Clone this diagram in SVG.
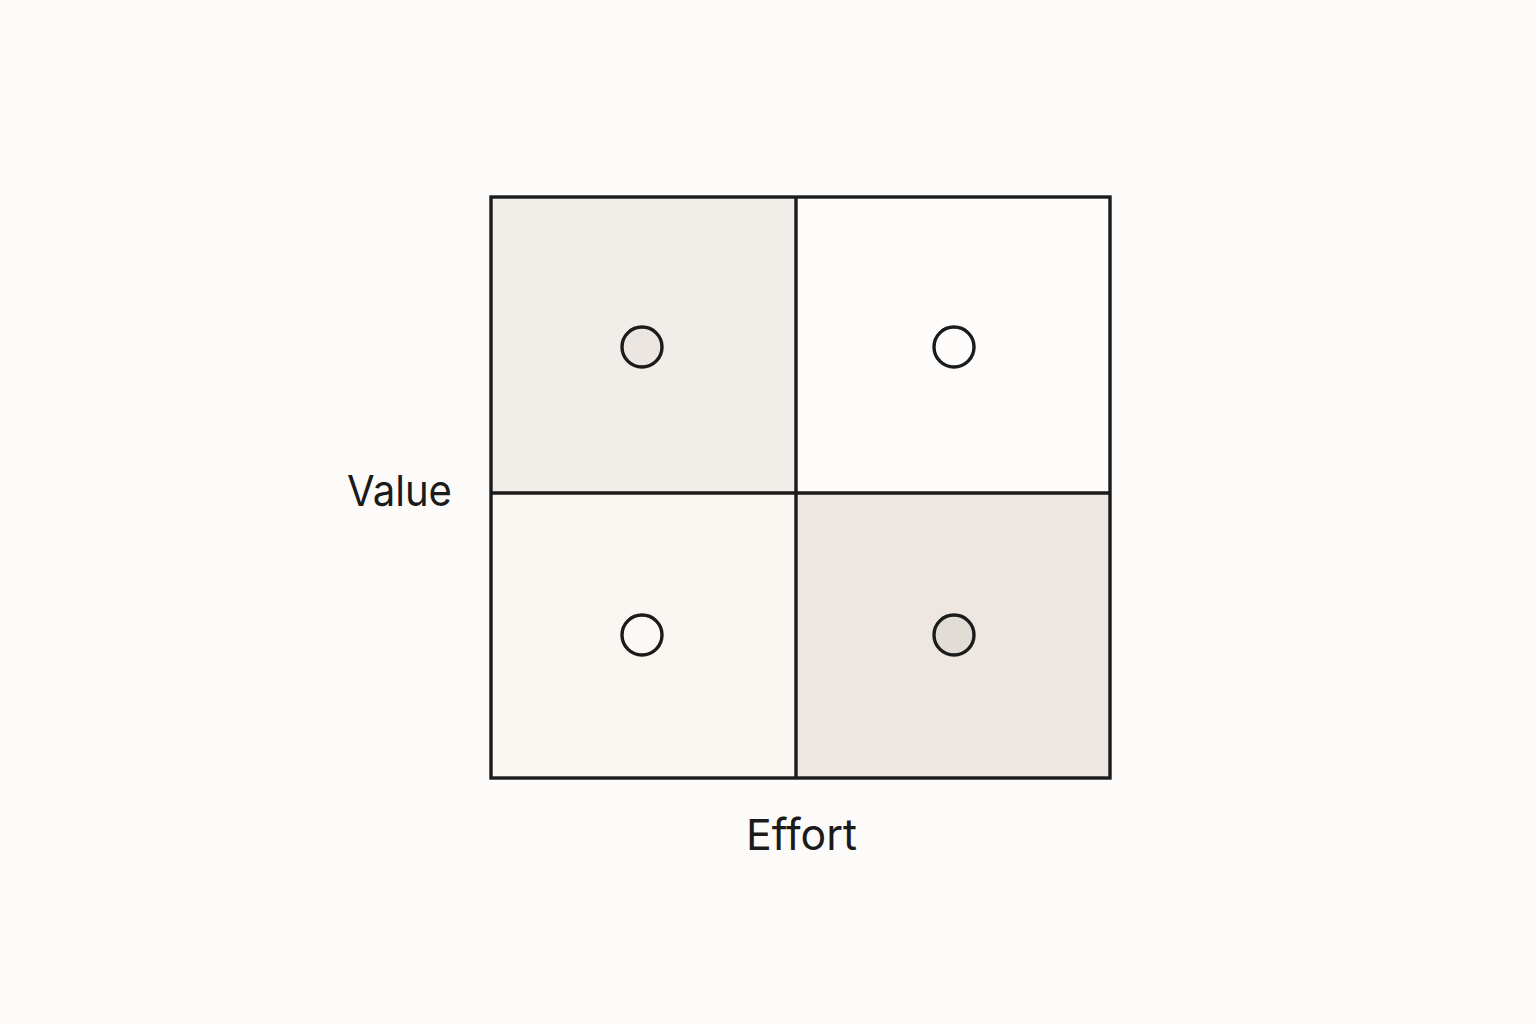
<svg xmlns="http://www.w3.org/2000/svg" width="1536" height="1024" viewBox="0 0 1536 1024">
<style>
.cell{stroke:none}
.line{stroke:#1b1b1b;stroke-width:3.4;fill:none}
.dot{stroke:#1b1b1b;stroke-width:3.4}
.lbl{font-family:Inter,"Liberation Sans",sans-serif;font-size:43px;fill:#1b1b1b}
</style>
<rect width="1536" height="1024" fill="#fcfbfa"/>
<g id="q-tl"><rect class="cell" x="491" y="197" width="305" height="296" fill="#f1ede9"/><circle class="dot" cx="642" cy="347" r="20" fill="#ebe6e2"/></g>
<g id="q-tr"><rect class="cell" x="796" y="197" width="314" height="296" fill="#fdfcfb"/><circle class="dot" cx="954" cy="347" r="20" fill="#fdfcfb"/></g>
<g id="q-bl"><rect class="cell" x="491" y="493" width="305" height="285" fill="#faf6f2"/><circle class="dot" cx="642" cy="635" r="20" fill="#fbf8f5"/></g>
<g id="q-br"><rect class="cell" x="796" y="493" width="314" height="285" fill="#eee6e0"/><circle class="dot" cx="954" cy="635" r="20" fill="#e2dcd7"/></g>
<g id="grid">
<rect class="line" x="491" y="197" width="619" height="581"/>
<line class="line" x1="796" y1="197" x2="796" y2="778"/>
<line class="line" x1="491" y1="493" x2="1110" y2="493"/>
</g>
<g id="labels">
<text class="lbl" x="347" y="506" textLength="105" lengthAdjust="spacingAndGlyphs">Value</text>
<text class="lbl" x="746" y="850" textLength="111" lengthAdjust="spacingAndGlyphs">Effort</text>
</g>
</svg>
